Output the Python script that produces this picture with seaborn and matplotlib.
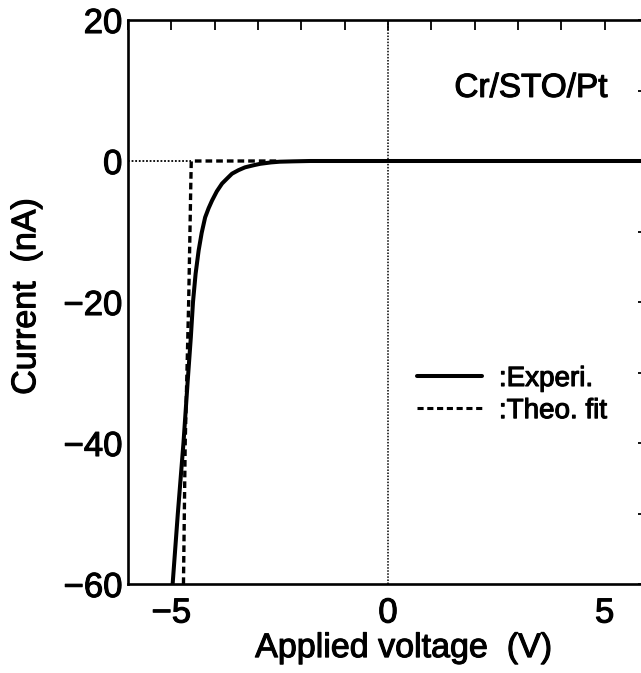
import numpy as np
import pandas as pd
import matplotlib
matplotlib.use("Agg")
import matplotlib.pyplot as plt
import matplotlib.patheffects as pe
from matplotlib.ticker import MultipleLocator
from matplotlib.lines import Line2D
import seaborn as sns

# ---- data ----
exp_v = [-4.97, -4.85, -4.72, -4.62, -4.55, -4.50, -4.44, -4.37, -4.30, -4.22,
         -4.14, -4.06, -3.95, -3.83, -3.70, -3.60, -3.45, -3.30, -3.10, -2.95,
         -2.70, -2.50, -2.20, -1.80, -1.00, 0.00, 1.00, 2.00, 3.00, 4.00, 5.00, 6.00]
exp_i = [-60.0, -50.0, -40.0, -31.0, -25.0, -20.0, -16.0, -12.7, -10.2, -8.0,
         -6.7, -5.6, -4.3, -3.2, -2.4, -1.8, -1.3, -0.9, -0.6, -0.4,
         -0.2, -0.1, -0.05, 0.0, 0.0, 0.0, 0.0, 0.0, 0.0, 0.0, 0.0, 0.0]

fit_v = [-4.72, -4.68, -4.64, -4.60, -4.57, -4.55, -4.54, -4.40, -4.00, -3.50, -3.00, -2.50]
fit_i = [-60.0, -40.0, -30.0, -20.0, -10.0, -3.0, 0.0, 0.0, 0.0, 0.0, 0.0, 0.0]

zero_v = [-6.0, -4.54]
zero_i = [0.0, 0.0]

x_ticks = [-5, 0, 5]
y_ticks = [-60, -40, -20, 0, 20]
sample_label = "Cr/STO/Pt"
legend_labels = [":Experi.", ":Theo. fit"]

# ---- style ----
sns.set_style("white")
plt.rcParams["font.family"] = ["Liberation Sans", "DejaVu Sans"]
plt.rcParams["axes.linewidth"] = 1.9
plt.rcParams["text.color"] = "black"
plt.rcParams["axes.labelcolor"] = "black"
plt.rcParams["xtick.color"] = "black"
plt.rcParams["ytick.color"] = "black"
plt.rcParams["axes.edgecolor"] = "black"

heavy = [pe.withStroke(linewidth=0.8, foreground="black")]

fig = plt.figure(figsize=(6.41, 6.73), dpi=100)
ax = fig.add_axes([128 / 641, 89 / 673, 520 / 641, 564 / 673])

df_exp = pd.DataFrame({"V": exp_v, "I": exp_i})
df_fit = pd.DataFrame({"V": fit_v, "I": fit_i})
df_zero = pd.DataFrame({"V": zero_v, "I": zero_i})

sns.lineplot(data=df_zero, x="V", y="I", ax=ax, color="black", lw=1.3,
             linestyle=(0, (1, 1)), sort=False, estimator=None)
ax.axvline(0, color="black", lw=1.1, linestyle=(0, (1, 1)))
sns.lineplot(data=df_exp, x="V", y="I", ax=ax, color="black", lw=2.9,
             sort=False, estimator=None)
sns.lineplot(data=df_fit, x="V", y="I", ax=ax, color="black", lw=2.4,
             linestyle=(0, (2, 1.2)), sort=False, estimator=None)

ax.set_xlim(-6, 6)
ax.set_ylim(-60, 20)
ax.set_xticks(x_ticks)
ax.set_yticks(y_ticks)
ax.xaxis.set_minor_locator(MultipleLocator(1))
ax.yaxis.set_minor_locator(MultipleLocator(10))
ax.tick_params(which="both", direction="in", top=True, right=True,
               length=7.5, width=1.3, labelsize=25)
ax.tick_params(axis="x", which="major", pad=9)
ax.tick_params(axis="y", which="major", pad=4)
for lab in ax.get_xticklabels() + ax.get_yticklabels():
    lab.set_path_effects(heavy)

ax.set_xlabel("Applied voltage  (V)", fontsize=24.5, path_effects=heavy)
ax.set_ylabel("Current  (nA)", fontsize=24.5, path_effects=heavy)
ax.xaxis.set_label_coords(0.53, -0.087)
ax.yaxis.set_label_coords(-0.165, 0.51)

ax.text(3.3, 10.3, sample_label, fontsize=24, ha="center", va="center",
        path_effects=heavy)

handles = [Line2D([], [], color="black", lw=2.9),
           Line2D([], [], color="black", lw=2.2, linestyle=(0, (2, 1.2)))]
leg = ax.legend(handles, legend_labels, loc="upper left",
                bbox_to_anchor=((417 - 128) / 520, (584 - 366) / 564),
                frameon=False, fontsize=20, handlelength=2.35,
                handletextpad=0.6, borderpad=0, borderaxespad=0,
                labelspacing=0.22)
for t in leg.get_texts():
    t.set_path_effects(heavy)

fig.savefig("out.png", dpi=100)
